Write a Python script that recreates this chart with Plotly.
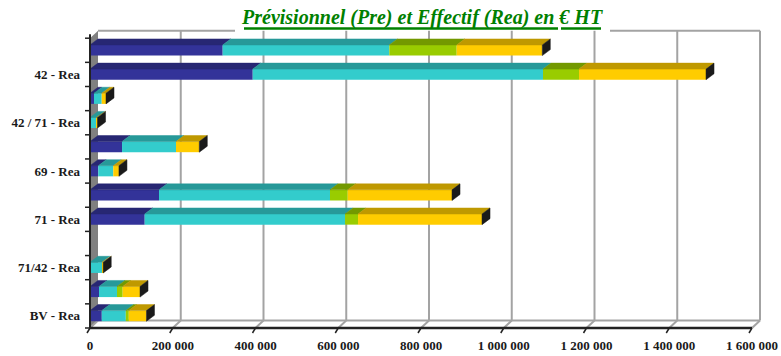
import plotly.graph_objects as go

# ---------------- data ----------------
categories = ["BV - Rea", "BV - Pre", "71/42 - Rea", "71/42 - Pre", "71 - Rea", "71 - Pre",
              "69 - Rea", "69 - Pre", "42 / 71 - Rea", "42 / 71 - Pre", "42 - Rea", "42 - Pre"]
shown_labels = ["BV - Rea", "71/42 - Rea", "71 - Rea", "69 - Rea", "42 / 71 - Rea", "42 - Rea"]
series_names = ["Série 1", "Série 2", "Série 3", "Série 4"]
serie_1 = [28500, 21800, 0, 0, 132200, 166800, 20000, 77400, 0, 9700, 393300, 320700]
serie_2 = [58000, 43500, 29000, 0, 484200, 413300, 36300, 130500, 15700, 18600, 701600, 402700]
serie_3 = [7300, 13700, 0, 0, 31400, 42800, 0, 0, 0, 0, 87000, 162900]
serie_4 = [42700, 41900, 3000, 0, 299700, 252100, 13700, 56300, 2500, 10400, 307000, 206900]
tick_values = [0, 200000, 400000, 600000, 800000, 1000000, 1200000, 1400000, 1600000]
tick_labels = ["0", "200 000", "400 000", "600 000", "800 000", "1 000 000",
               "1 200 000", "1 400 000", "1 600 000"]
title_text = "Prévisionnel (Pre) et Effectif (Rea) en € HT"

# ---------------- styles / geometry ----------------
front_colors = ["#333399", "#33CCCC", "#99CC00", "#FFCC00"]
top_colors = ["#272773", "#279999", "#739900", "#BF9900"]
side_color = "#1a1a1a"
W, H = 781, 356
ML, MR, MT, MB = 90, 19, 29, 28
PW, PH = W - ML - MR, H - MT - MB
X0PX, XENDPX = 90, 752            # pixel of 0 and of last tick on front plane
k = (XENDPX - X0PX) / tick_values[-1]   # px per unit
XMAX = PW / k
SLOT = 24.15                      # px per category
YMIN = -0.5
YMAX = YMIN + PH / SLOT
DXB, DYB = 8, 6                   # bar depth offsets (px)
DXW, DYW = 8, 7.5                 # wall depth offsets (px)
BAR_W = 0.44
FLOOR = H - MB                    # front floor pixel y
dxu = DXB / k                     # depth offset in data units
dyu = DYB / SLOT


def px(x):
    return (x - ML) / PW


def py(y):
    return (H - MB - y) / PH


series = [serie_1, serie_2, serie_3, serie_4]
ypos = list(range(len(categories)))
n = len(categories)

# cumulative bases
bases = []
acc = [0] * n
for s in series:
    bases.append(acc[:])
    acc = [a + v for a, v in zip(acc, s)]
totals = acc

fig = go.Figure()

# top faces (parallelograms) per series
for name, s, b, c in zip(series_names, series, bases, top_colors):
    xs, ys = [], []
    for i in ypos:
        if s[i] <= 0:
            continue
        yt = i + BAR_W / 2
        x0, x1 = b[i], b[i] + s[i]
        xs += [x0, x0 + dxu, x1 + dxu, x1, x0, None]
        ys += [yt, yt + dyu, yt + dyu, yt, yt, None]
    fig.add_trace(go.Scatter(x=xs, y=ys, mode="lines", fill="toself", fillcolor=c,
                             line=dict(color=c, width=0.5), hoverinfo="skip",
                             showlegend=False))

# side faces at the end of each stack
xs, ys = [], []
for i in ypos:
    t = totals[i]
    if t <= 0:
        continue
    yb, yt = i - BAR_W / 2, i + BAR_W / 2
    xs += [t, t, t + dxu, t + dxu, t, None]
    ys += [yb, yt, yt + dyu, yb + dyu, yb, None]
fig.add_trace(go.Scatter(x=xs, y=ys, mode="lines", fill="toself", fillcolor=side_color,
                         line=dict(color=side_color, width=0.5), hoverinfo="skip",
                         showlegend=False))

# front faces
for name, s, b, c in zip(series_names, series, bases, front_colors):
    fig.add_trace(go.Bar(orientation="h", x=s, y=ypos, base=b, width=BAR_W,
                         marker=dict(color=c, line=dict(width=0)), name=name,
                         customdata=categories,
                         hovertemplate="%{customdata}<br>" + name + ": %{x:,.0f}<extra></extra>",
                         showlegend=False))

# ---------------- decorations ----------------
shapes = []
grid_col = "#a3a3a3"
front_top = FLOOR - n * SLOT
back_top = front_top - DYW
back_floor = FLOOR - DYW
# gray side wall
shapes.append(dict(type="path", xref="paper", yref="paper", layer="below",
                   path=f"M {px(X0PX)} {py(FLOOR)} L {px(X0PX)} {py(front_top)} "
                        f"L {px(X0PX + DXW)} {py(back_top)} L {px(X0PX + DXW)} {py(back_floor)} Z",
                   fillcolor="#808080", line=dict(width=0)))
# back gridlines
for v in tick_values[1:-1]:
    xb = X0PX + DXW + v * k
    shapes.append(dict(type="line", xref="paper", yref="paper", layer="below",
                       x0=px(xb), x1=px(xb), y0=py(back_floor), y1=py(back_top),
                       line=dict(color=grid_col, width=2)))
# right back wall edge
xr = X0PX + DXW + tick_values[-1] * k
shapes.append(dict(type="line", xref="paper", yref="paper", layer="below",
                   x0=px(xr), x1=px(xr), y0=py(back_floor), y1=py(back_top),
                   line=dict(color=grid_col, width=2)))
# back top edge (interrupted by title)
for a, b in [(X0PX + DXW, 235), (610, xr)]:
    shapes.append(dict(type="line", xref="paper", yref="paper", layer="below",
                       x0=px(a), x1=px(b), y0=py(back_top), y1=py(back_top),
                       line=dict(color=grid_col, width=2)))
# back floor line
shapes.append(dict(type="line", xref="paper", yref="paper", layer="below",
                   x0=px(X0PX + DXW), x1=px(xr), y0=py(back_floor), y1=py(back_floor),
                   line=dict(color=grid_col, width=2)))
# floor diagonals
for v in tick_values:
    xf = X0PX + v * k
    shapes.append(dict(type="line", xref="paper", yref="paper", layer="below",
                       x0=px(xf), x1=px(xf + DXW), y0=py(FLOOR), y1=py(back_floor),
                       line=dict(color=grid_col, width=2)))
# front floor line
shapes.append(dict(type="line", xref="paper", yref="paper",
                   x0=px(X0PX - 1), x1=px(XENDPX), y0=py(FLOOR), y1=py(FLOOR),
                   line=dict(color="#222222", width=2.5)))
# front x tick marks
for v in tick_values:
    xf = X0PX + v * k
    shapes.append(dict(type="line", xref="paper", yref="paper",
                       x0=px(xf), x1=px(xf - 3), y0=py(FLOOR), y1=py(FLOOR + 5),
                       line=dict(color="#222222", width=1.5)))
# left wall front edge
shapes.append(dict(type="line", xref="paper", yref="paper",
                   x0=px(X0PX), x1=px(X0PX), y0=py(FLOOR), y1=py(front_top - 4),
                   line=dict(color="#222222", width=2)))
# y tick marks at category boundaries
for j in range(n + 1):
    yb = FLOOR - j * SLOT
    shapes.append(dict(type="line", xref="paper", yref="paper",
                       x0=px(X0PX - 5), x1=px(X0PX), y0=py(yb), y1=py(yb),
                       line=dict(color="#222222", width=1.5)))
# title underline (thick, as in the original)
for a, b in [(244, 558), (561, 601)]:
    shapes.append(dict(type="line", xref="paper", yref="paper",
                       x0=px(a), x1=px(b), y0=py(28.6), y1=py(28.6),
                       line=dict(color="#008000", width=2.5)))

label_font = dict(family="Liberation Serif", size=13, color="#1a1a1a", weight="bold")

fig.update_layout(
    width=W, height=H, margin=dict(l=ML, r=MR, t=MT, b=MB, autoexpand=False),
    paper_bgcolor="white", plot_bgcolor="rgba(0,0,0,0)",
    barmode="overlay", showlegend=False, shapes=shapes,
    xaxis=dict(range=[0, XMAX], side="bottom", automargin=False,
               tickmode="array", tickvals=tick_values, ticktext=tick_labels,
               showgrid=False, zeroline=False, showline=False, ticks="",
               ticklabelstandoff=8, tickfont=label_font, fixedrange=True),
    yaxis=dict(range=[YMIN, YMAX], side="left", automargin=False,
               tickmode="array", tickvals=[categories.index(c) for c in shown_labels],
               ticktext=shown_labels, showgrid=False, zeroline=False, showline=False,
               ticks="", ticklabelstandoff=9, tickfont=label_font, fixedrange=True),
    annotations=[dict(xref="paper", yref="paper", x=px(422), y=py(17),
                      xanchor="center", yanchor="middle", showarrow=False,
                      text="<b><i>" + title_text + "</i></b>",
                      font=dict(family="Liberation Serif", size=20, color="#008000"))],
)

fig.write_html("out.html", config={"displayModeBar": False},
               post_script="document.body.style.margin='0';document.body.style.overflow='hidden';")
